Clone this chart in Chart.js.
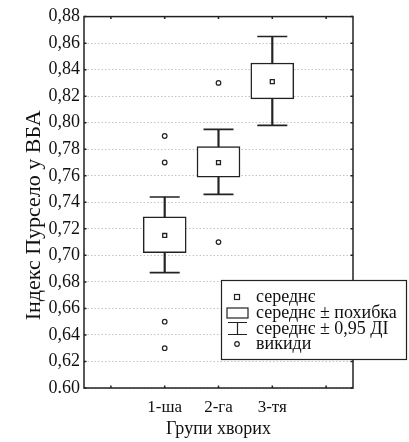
<!DOCTYPE html>
<html>
<head>
<meta charset="utf-8">
<script src="https://cdn.jsdelivr.net/npm/chart.js@4.4.1/dist/chart.umd.min.js"></script>
<style>
  html, body { margin: 0; padding: 0; background: #ffffff; }
  #wrap { position: relative; width: 409px; height: 442px; }
</style>
</head>
<body>
<div id="wrap"><canvas id="c" width="409" height="442"></canvas></div>
<script>
// ---- data ----
const groups = ['', '1-ша', '2-га', '3-тя', ''];
const means  = [null, 0.715, 0.770, 0.831, null];
const seLow  = [null, 0.702, 0.759, 0.818, null];
const seHigh = [null, 0.729, 0.782, 0.845, null];
const ciLow  = [null, 0.687, 0.746, 0.798, null];
const ciHigh = [null, 0.744, 0.795, 0.865, null];
const outlierGroups = ['1-ша', '1-ша', '1-ша', '1-ша', '2-га', '2-га'];
const outlierValues = [0.790, 0.770, 0.650, 0.630, 0.830, 0.710];
const yTickLabels = ['0.60', '0,62', '0,64', '0,66', '0,68', '0,70', '0,72', '0,74',
                     '0,76', '0,78', '0,80', '0,82', '0,84', '0,86', '0,88'];
const legendLabels = ['середнє', 'середнє ± похибка', 'середнє ± 0,95 ДІ', 'викиди'];
const yTitle = 'Індекс Пурсело у ВБА';
const xTitle = 'Групи хворих';

const INK = '#222222';
const TXT = '#111111';
const FONT = "'Liberation Serif', 'Times New Roman', serif";

const boxes = groups.map((g, i) => seLow[i] == null ? null : [seLow[i], seHigh[i]]);
const whiskers = groups.map((g, i) => ciLow[i] == null ? null : [ciLow[i], ciHigh[i]]);
const outliers = outlierGroups.map((g, i) => ({ x: g, y: outlierValues[i] }));

const framePlugin = {
  id: 'frame',
  afterDatasetsDraw(chart) {
    const { ctx, chartArea: a, scales } = chart;
    ctx.save();
    ctx.strokeStyle = INK;
    ctx.lineWidth = 1.5;
    ctx.strokeRect(a.left, a.top, a.right - a.left, a.bottom - a.top);
    // inner tick marks
    scales.y.ticks.forEach((t, i) => {
      const y = scales.y.getPixelForTick(i);
      ctx.beginPath();
      ctx.moveTo(a.left, y); ctx.lineTo(a.left + 2.5, y);
      ctx.moveTo(a.right, y); ctx.lineTo(a.right - 2.5, y);
      ctx.stroke();
    });
    scales.x.ticks.forEach((t, i) => {
      const x = scales.x.getPixelForTick(i);
      ctx.beginPath();
      ctx.moveTo(x, a.top); ctx.lineTo(x, a.top + 2.5);
      ctx.moveTo(x, a.bottom); ctx.lineTo(x, a.bottom - 2.5);
      ctx.stroke();
    });
    ctx.restore();
  },
  afterDraw(chart) {
    const { ctx, chartArea: a } = chart;
    // y axis title
    ctx.save();
    ctx.fillStyle = TXT;
    ctx.font = '22px ' + FONT;
    ctx.textAlign = 'center';
    ctx.textBaseline = 'middle';
    ctx.translate(34, (a.top + a.bottom) / 2 + 13);
    ctx.rotate(-Math.PI / 2);
    ctx.fillText(yTitle, 0, 0);
    ctx.restore();

    // legend box
    const L = 221, T = 280, W = 185, H = 79;
    ctx.save();
    ctx.fillStyle = '#ffffff';
    ctx.fillRect(L, T, W, H);
    ctx.strokeStyle = INK;
    ctx.lineWidth = 1.2;
    ctx.strokeRect(L + 0.5, T + 0.5, W, H);
    const rows = [297, 313, 328.5, 344];
    const ix = 237;
    ctx.lineWidth = 1.2;
    ctx.strokeRect(ix - 2.5, rows[0] - 2.5, 5, 5);
    ctx.strokeRect(227, rows[1] - 5, 21, 10);
    ctx.beginPath();
    ctx.moveTo(228, rows[2] - 6); ctx.lineTo(247, rows[2] - 6);
    ctx.moveTo(237.5, rows[2] - 6); ctx.lineTo(237.5, rows[2] + 6);
    ctx.moveTo(228, rows[2] + 6); ctx.lineTo(247, rows[2] + 6);
    ctx.stroke();
    ctx.beginPath();
    ctx.arc(ix, rows[3], 2.3, 0, Math.PI * 2);
    ctx.stroke();
    ctx.fillStyle = TXT;
    ctx.font = '18px ' + FONT;
    ctx.textBaseline = 'middle';
    ctx.textAlign = 'left';
    legendLabels.forEach((t, i) => ctx.fillText(t, 256, rows[i] + 0.5));
    ctx.restore();
  }
};

new Chart(document.getElementById('c'), {
  type: 'bar',
  data: {
    labels: groups,
    datasets: [
      {
        label: 'whisker', data: whiskers, backgroundColor: INK, borderWidth: 0,
        barThickness: 1.5, grouped: false, order: 5
      },
      {
        label: 'box', data: boxes, backgroundColor: '#ffffff', borderColor: INK,
        borderWidth: 1.5, borderSkipped: false, barThickness: 43, grouped: false, order: 4
      },
      {
        type: 'line', label: 'capHigh', data: ciHigh, showLine: false,
        pointStyle: 'line', pointRadius: 15, pointBorderWidth: 1.6,
        pointBorderColor: INK, order: 3
      },
      {
        type: 'line', label: 'capLow', data: ciLow, showLine: false,
        pointStyle: 'line', pointRadius: 15, pointBorderWidth: 1.6,
        pointBorderColor: INK, order: 3
      },
      {
        type: 'line', label: 'mean', data: means, showLine: false,
        pointStyle: 'rect', pointRadius: 2.8, pointBorderWidth: 1.3,
        pointBackgroundColor: '#ffffff', pointBorderColor: INK, order: 1
      },
      {
        type: 'line', label: 'outliers', data: outliers, showLine: false,
        pointStyle: 'circle', pointRadius: 2.3, pointBorderWidth: 1.2,
        pointBackgroundColor: '#ffffff', pointBorderColor: INK, order: 1
      }
    ]
  },
  options: {
    responsive: false,
    animation: false,
    events: [],
    layout: { padding: { top: 15, right: 56, left: 0, bottom: 0 } },
    plugins: { legend: { display: false }, tooltip: { enabled: false } },
    scales: {
      x: {
        type: 'category',
        offset: true,
        grid: { display: false, drawTicks: false },
        border: { display: false },
        ticks: { color: TXT, font: { family: FONT, size: 17 }, padding: 9, maxRotation: 0, autoSkip: false },
        title: { display: true, text: xTitle, color: TXT, font: { family: FONT, size: 18 }, padding: { top: 0, bottom: 2 } },
        afterFit(s) { s.height = 54; }
      },
      y: {
        min: 0.60, max: 0.88,
        grid: { color: '#c4c4c4', lineWidth: 1, drawTicks: false },
        border: { display: false, dash: [1.5, 2] },
        ticks: {
          stepSize: 0.02,
          color: TXT,
          font: { family: FONT, size: 18 },
          padding: 4,
          callback: (v, i) => yTickLabels[i]
        },
        afterFit(s) { s.width = 84; }
      }
    }
  },
  plugins: [framePlugin]
});
</script>
</body>
</html>
